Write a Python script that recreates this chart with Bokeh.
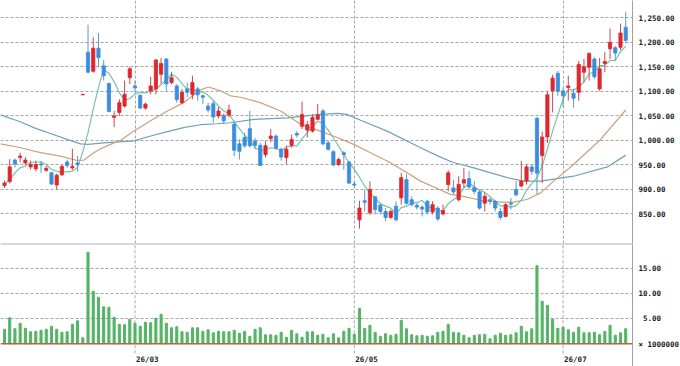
from bokeh.plotting import figure
from bokeh.layouts import column
from bokeh.models import Range1d, FixedTicker, ColumnDataSource, Span
from bokeh.embed import file_html
from bokeh.resources import INLINE
from bokeh.core.properties import value

# ---- daily candles (bar index 0..119) ----
opens = [908, 916, 960, 965, 954, 946, 942, 952, 939, 934,
         909, 930, 956, 944, 954, 1093, 1180, 1141, 1188, 1152,
         1116, 1047, 1057, 1070, 1128, 1111, 1092, 1066, 1101, 1105,
         1135, 1166, 1118, 1111, 1077, 1105, 1094, 1105, 1091, 1070,
         1075, 1050, 1051, 1052, 1033, 993, 1006, 1024, 999, 990,
         971, 1004, 1009, 982, 965, 990, 1014, 1029, 1021, 1019,
         1043, 1060, 995, 977, 951, 975, 956, 911, 838, 877,
         853, 885, 868, 855, 843, 866, 883, 920, 879, 868,
         864, 876, 854, 862, 850, 910, 903, 879, 913, 922,
         904, 895, 872, 879, 876, 855, 845, 872, 900, 907,
         917, 946, 1045, 969, 1007, 1101, 1137, 1101, 1108, 1096,
         1098, 1139, 1149, 1166, 1105, 1157, 1187, 1189, 1190, 1231]
highs = [918, 962, 963, 975, 966, 959, 959, 958, 948, 936,
         932, 951, 961, 983, 968, 1095, 1236, 1210, 1219, 1164,
         1118, 1060, 1084, 1122, 1150, 1122, 1094, 1077, 1130, 1166,
         1168, 1168, 1140, 1115, 1105, 1118, 1132, 1109, 1094, 1077,
         1081, 1068, 1055, 1073, 1040, 1002, 1016, 1060, 1005, 995,
         999, 1023, 1012, 985, 990, 1012, 1019, 1079, 1040, 1053,
         1074, 1064, 999, 980, 965, 978, 958, 917, 877, 900,
         917, 886, 872, 862, 859, 876, 934, 931, 886, 872,
         868, 879, 876, 866, 869, 939, 920, 927, 944, 937,
         917, 900, 893, 883, 879, 862, 872, 883, 917, 958,
         951, 951, 1048, 1018, 1101, 1134, 1142, 1107, 1132, 1105,
         1162, 1166, 1180, 1169, 1168, 1180, 1228, 1193, 1238, 1262]
lows = [903, 912, 945, 955, 950, 941, 937, 934, 936, 909,
        900, 927, 944, 940, 937, 1092, 1137, 1138, 1149, 1122,
        1057, 1027, 1050, 1067, 1115, 1098, 1064, 1062, 1094, 1094,
        1116, 1101, 1115, 1077, 1074, 1088, 1084, 1081, 1074, 1057,
        1036, 1045, 1034, 1047, 968, 961, 985, 985, 982, 948,
        965, 996, 980, 959, 952, 985, 1006, 1023, 1006, 1016,
        1041, 990, 979, 947, 948, 940, 911, 904, 820, 855,
        848, 849, 849, 835, 840, 835, 869, 869, 866, 859,
        845, 849, 849, 835, 847, 896, 890, 876, 903, 900,
        890, 859, 855, 869, 855, 838, 843, 859, 886, 905,
        910, 930, 891, 913, 995, 1057, 1091, 1068, 1081, 1067,
        1081, 1118, 1122, 1125, 1101, 1139, 1166, 1163, 1184, 1198]
closes = [913, 946, 952, 968, 960, 951, 951, 950, 943, 911,
          929, 947, 949, 947, 951, 1094, 1139, 1188, 1169, 1132,
          1059, 1050, 1077, 1094, 1146, 1107, 1066, 1074, 1111, 1164,
          1157, 1115, 1128, 1083, 1098, 1098, 1118, 1093, 1088, 1062,
          1048, 1060, 1040, 1062, 980, 978, 989, 989, 990, 949,
          989, 1009, 984, 966, 982, 1002, 1011, 1053, 1032, 1047,
          1052, 993, 982, 950, 961, 971, 913, 909, 862, 874,
          900, 859, 855, 843, 855, 838, 924, 872, 869, 864,
          860, 854, 869, 840, 857, 934, 895, 910, 920, 905,
          896, 862, 886, 876, 862, 843, 869, 870, 889, 917,
          946, 937, 933, 1007, 1093, 1127, 1100, 1091, 1111, 1086,
          1155, 1150, 1177, 1130, 1146, 1161, 1200, 1178, 1219, 1204]
# volume in millions of shares
volumes = [2.9, 5.2, 3.0, 4.1, 3.1, 2.4, 2.5, 2.7, 2.9, 3.5,
           2.9, 2.3, 2.4, 3.9, 4.6, 1.2, 18.3, 10.5, 9.3, 7.4,
           7.3, 5.3, 3.9, 3.8, 4.9, 4.1, 3.5, 4.3, 4.2, 5.1,
           5.9, 4.1, 3.2, 3.4, 2.4, 2.3, 3.2, 3.2, 2.5, 2.8,
           2.2, 2.5, 2.4, 2.4, 2.7, 2.1, 2.5, 1.5, 2.9, 3.2,
           1.8, 1.8, 1.7, 2.3, 1.3, 2.7, 2.0, 1.3, 2.4, 2.4,
           1.7, 1.9, 1.2, 2.0, 1.2, 2.5, 3.1, 1.9, 7.1, 3.1,
           3.7, 2.3, 1.5, 2.0, 1.7, 1.9, 4.7, 3.0, 1.8, 1.6,
           1.7, 1.5, 1.6, 2.3, 2.5, 3.9, 2.3, 2.2, 1.7, 1.2,
           1.7, 1.8, 1.9, 1.0, 1.7, 2.1, 1.7, 1.8, 2.2, 3.5,
           2.4, 3.0, 15.6, 8.5, 7.7, 4.9, 3.1, 3.3, 2.8, 2.3,
           3.3, 2.2, 2.2, 2.3, 1.8, 2.5, 3.7, 1.7, 2.2, 3.0]

# ---- moving averages ----
ma_short = [910, 921, 934, 944, 948, 955, 956, 956, 951, 941,
            937, 936, 936, 937, 945, 977, 1016, 1064, 1108, 1144,
            1137, 1120, 1097, 1082, 1085, 1095, 1098, 1097, 1101, 1104,
            1114, 1124, 1135, 1129, 1116, 1104, 1105, 1098, 1099, 1092,
            1082, 1070, 1060, 1054, 1038, 1024, 1010, 1000, 985, 979,
            981, 985, 984, 979, 986, 989, 989, 1003, 1016, 1029,
            1039, 1035, 1021, 1005, 988, 971, 955, 941, 925, 907,
            893, 882, 871, 866, 862, 850, 863, 866, 872, 873,
            878, 864, 863, 857, 856, 871, 879, 887, 903, 913,
            905, 899, 894, 885, 876, 866, 867, 864, 867, 878,
            898, 912, 924, 948, 983, 1019, 1052, 1084, 1104, 1103,
            1109, 1119, 1136, 1140, 1152, 1153, 1163, 1163, 1181, 1192]
ma_mid_x = [-0.77, 3.1, 6.9, 10.7, 13.9, 15.2, 17.1, 18.4, 20.3, 22.2,
            24.8, 28.0, 31.2, 34.3, 37.5, 39.1, 41.4, 43.3, 45.2, 49.0,
            52.9, 56.7, 60.5, 63.7, 66.9, 70.1, 73.3, 76.5, 79.7, 82.9,
            85.4, 87.4, 91.2, 95.0, 97.6, 100.2, 102.7, 105.2, 109.0, 114.2, 119]
ma_mid_y = [993, 985, 975, 968, 959, 960, 975, 983, 992, 1000,
            1019, 1040, 1060, 1077, 1103, 1109, 1101, 1091, 1088, 1077,
            1060, 1033, 1019, 1006, 992, 975, 958, 938, 917, 902,
            890, 887, 878, 874, 874, 880, 893, 917, 951, 1002, 1062]
ma_long_x = [-0.77, 3.0, 5.6, 8.8, 12.0, 14.6, 16.0, 19.0, 24.8, 28.0,
             31.2, 34.3, 37.5, 40.7, 43.3, 47.8, 54.2, 60.5, 63.7, 65.6,
             68.2, 73.3, 79.7, 83.5, 86.0, 89.9, 96.3, 99.5, 102.7, 109.0,
             115.5, 119]
ma_long_y = [1052, 1038, 1026, 1014, 1002, 993, 992, 995, 999, 1009,
             1018, 1026, 1032, 1034, 1036, 1043, 1046, 1053, 1055, 1053,
             1041, 1019, 985, 966, 955, 944, 924, 917, 917, 927,
             946, 970]

price_ticks = [850, 900, 950, 1000, 1050, 1100, 1150, 1200, 1250]
price_labels = ["850.00", "900.00", "950.00", "1,000.00", "1,050.00",
                "1,100.00", "1,150.00", "1,200.00", "1,250.00"]
vol_ticks = [5, 10, 15]
vol_labels = ["\u00a05.00", "10.00", "15.00"]
vol_unit_pos = -0.1
vol_unit_label = "\u00d7 1000000"
month_idx = [25, 67, 107]
month_labels = ["26/03", "26/05", "26/07"]

UP, DOWN = "#e0262c", "#3b8ede"
UP_WICK, DOWN_WICK = "#c24a52", "#5f96cc"
GRID = "#a6a6a6"
FONT = "DejaVu Sans Mono"

idx = list(range(len(closes)))
up = [c >= o for o, c in zip(opens, closes)]
src = ColumnDataSource(dict(
    x=idx, o=opens, h=highs, l=lows, c=closes,
    top=[max(o, c) for o, c in zip(opens, closes)],
    bot=[min(o, c) for o, c in zip(opens, closes)],
    col=[UP if u else DOWN for u in up],
    wcol=[UP_WICK if u else DOWN_WICK for u in up],
))

x_range = Range1d(-0.766, 120.3)

def style_axis(ax, ticks, labels):
    ax.ticker = FixedTicker(ticks=ticks)
    ax.major_label_overrides = {t: s for t, s in zip(ticks, labels)}
    ax.major_tick_line_color = None
    ax.minor_tick_line_color = None
    ax.major_tick_out = 0
    ax.major_tick_in = 0
    ax.axis_line_color = "#a0a0a0"
    ax.major_label_standoff = 6
    ax.major_label_text_font = FONT
    ax.major_label_text_font_style = "bold"
    ax.major_label_text_font_size = "7.5px"
    ax.major_label_text_color = "#1a1a1a"

common = dict(frame_width=632, x_range=x_range, output_backend="svg",
              toolbar_location=None, x_axis_location=None, y_axis_location="right",
              min_border_left=0, min_border_right=48, min_border_top=0,
              min_border_bottom=0, outline_line_color=None)

# ---- price panel ----
p = figure(frame_height=243, y_range=Range1d(789.8, 1285.3), **common)
style_axis(p.yaxis[0], price_ticks, price_labels)
p.ygrid.grid_line_color = GRID
p.ygrid.grid_line_dash = "3 2"
p.xgrid.ticker = FixedTicker(ticks=month_idx)
p.xgrid.grid_line_color = GRID
p.xgrid.grid_line_dash = "3 2"

p.line(ma_long_x, ma_long_y, line_color="#6ea3b8", line_width=1.2)
p.line(ma_mid_x, ma_mid_y, line_color="#c8a27c", line_width=1.2)
p.line(idx, ma_short, line_color="#74c4aa", line_width=1.2)
p.segment(x0="x", y0="l", x1="x", y1="h", line_color="wcol", line_width=1, source=src)
p.vbar(x="x", width=0.62, top="top", bottom="bot", fill_color="col",
       line_color="col", line_width=0.8, source=src)

# ---- volume panel ----
v_top = 20.06
p2 = figure(frame_height=123, y_range=Range1d(-4.54, v_top), **common)
style_axis(p2.yaxis[0], vol_ticks + [vol_unit_pos], vol_labels + [vol_unit_label])
p2.ygrid.ticker = FixedTicker(ticks=vol_ticks)
p2.ygrid.grid_line_color = GRID
p2.ygrid.grid_line_dash = "3 2"
p2.xgrid.visible = False

p2.segment(x0=month_idx, x1=month_idx, y0=[-1.9] * len(month_idx), y1=[v_top] * len(month_idx),
           line_color=GRID, line_dash="3 2", line_width=1)
p2.vbar(x=idx, top=volumes, bottom=0, width=0.4, fill_color="#55b466", line_color="#55b466")
p2.add_layout(Span(location=0, dimension="width", line_color="#b5654d", line_width=1.5))
p2.add_layout(Span(location=v_top, dimension="width", line_color="#b4b4b4", line_width=2))
p2.text(x=month_idx, y=[-3.1] * len(month_idx), text=month_labels, x_offset=1,
        text_align="left", text_baseline="middle", text_font=value(FONT),
        text_font_style="bold", text_font_size="7.5px", text_color="#1a1a1a")

layout = column(p, p2, spacing=0)
open("out.html", "w").write(file_html(layout, INLINE))
